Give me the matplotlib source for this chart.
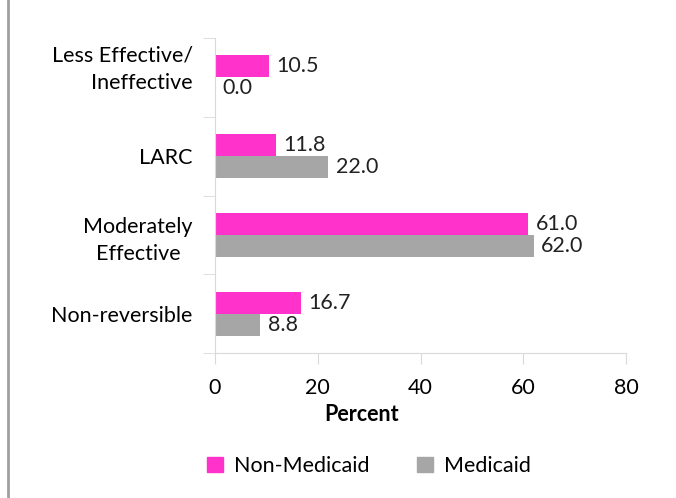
import numpy as np
import matplotlib.pyplot as plt
from matplotlib.patches import Patch
from matplotlib.lines import Line2D

categories = ["Less Effective/\nIneffective", "LARC", "Moderately\nEffective", "Non-reversible"]
non_medicaid = [10.5, 11.8, 61.0, 16.7]
medicaid = [0.0, 22.0, 62.0, 8.8]
xticks = [0, 20, 40, 60, 80]

pink = "#FF33CC"
gray = "#A6A6A6"
axis_col = "#D9D9D9"
fs = 15.5

plt.rcParams['font.family'] = ['Lato', 'DejaVu Sans']

fig = plt.figure(figsize=(6.76, 4.98), dpi=100)
ax = fig.add_axes([215/676, 1-353/498, (626-215)/676, (353-38)/498])

y = np.arange(len(categories))
h = 0.28
ax.barh(y - h/2, non_medicaid, height=h, color=pink, label="Non-Medicaid")
ax.barh(y + h/2, medicaid, height=h, color=gray, label="Medicaid")

for yi, v in zip(y, non_medicaid):
    ax.text(v + 1.5, yi - h/2, f"{v:.1f}", va="center", ha="left", fontsize=fs, color="#222222")
for yi, v in zip(y, medicaid):
    ax.text(v + 1.5, yi + h/2, f"{v:.1f}", va="center", ha="left", fontsize=fs, color="#222222")

ax.set_xlim(0, 80)
ax.set_ylim(len(categories) - 0.5, -0.5)
ax.set_xticks(xticks)
ax.set_xticklabels([str(t) for t in xticks], fontsize=fs)
ax.set_yticks(y)
# the first label sits a bit higher in the original, as if wrapped onto three lines
shown = [categories[0] + "\n"] + categories[1:]
ax.set_yticklabels(shown, fontsize=fs, linespacing=1.45)
for lbl in ax.get_yticklabels():
    lbl.set_multialignment("center")
ax.get_yticklabels()[0].set_multialignment("right")
ax.tick_params(axis="y", length=0, pad=16)
ax.tick_params(axis="x", length=8, color=axis_col, pad=10)

# minor ticks at category boundaries
ax.set_yticks(np.arange(-0.5, len(categories), 1), minor=True)
ax.tick_params(axis="y", which="minor", length=9, color=axis_col)

for s in ["top", "right"]:
    ax.spines[s].set_visible(False)
ax.spines["left"].set_color(axis_col)
ax.spines["bottom"].set_color(axis_col)

fig.text(362/676, 1-414/498, "Percent", ha="center", va="center", fontsize=fs, fontweight="bold")

handles = [Patch(color=pink), Patch(color=gray)]
fig.legend(handles, ["Non-Medicaid", "Medicaid"], loc="center", bbox_to_anchor=(369/676, 1-466/498),
           ncol=2, frameon=False, fontsize=fs, handlelength=0.75, handleheight=0.75,
           columnspacing=2.2, handletextpad=0.5)

fig.add_artist(Line2D([8/676, 8/676], [0, 1], color="#A0A0A0", linewidth=2))

fig.savefig("out.png", dpi=100)
